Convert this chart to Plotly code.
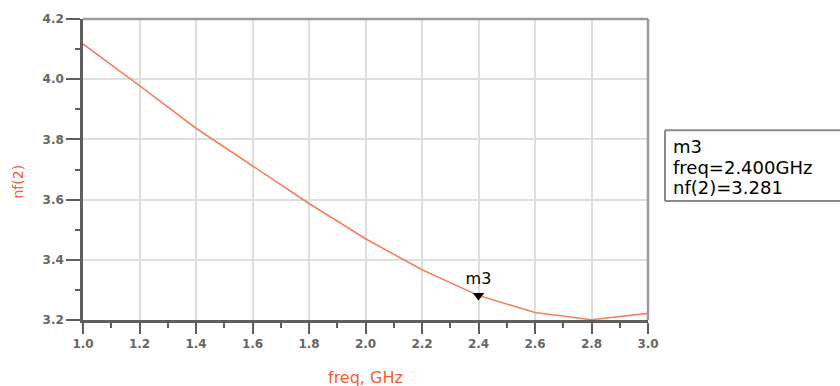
import plotly.graph_objects as go

# Noise figure sweep, nf(2) versus frequency
freq_ghz = [1.0, 1.2, 1.4, 1.6, 1.8, 2.0, 2.2, 2.4, 2.6, 2.8, 3.0]
nf2 = [4.117, 3.979, 3.837, 3.712, 3.587, 3.470, 3.367, 3.281, 3.225, 3.201, 3.222]

x_ticks = [1.0, 1.2, 1.4, 1.6, 1.8, 2.0, 2.2, 2.4, 2.6, 2.8, 3.0]
y_ticks = [3.2, 3.4, 3.6, 3.8, 4.0, 4.2]

marker_name = "m3"
marker_freq = 2.4
marker_value = nf2[freq_ghz.index(marker_freq)]

curve_color = "#f2825e"
title_color = "#f75b30"
axis_color = "#5e5e5e"
frame_color = "#9a9a9a"
grid_color = "#dedede"
font_family = "DejaVu Sans, Liberation Sans, Arial, sans-serif"

fig = go.Figure()

fig.add_trace(go.Scatter(
    x=freq_ghz, y=nf2, mode="lines",
    line=dict(color=curve_color, width=1.6),
    hoverinfo="skip", showlegend=False,
))

# marker triangle at the m3 point
fig.add_trace(go.Scatter(
    x=[marker_freq], y=[marker_value], mode="markers+text",
    marker=dict(symbol="triangle-down", size=10, color="black"),
    text=[marker_name], textposition="top center",
    textfont=dict(family=font_family, size=16, color="black"),
    hoverinfo="skip", showlegend=False, cliponaxis=False,
))

fig.update_layout(
    width=840, height=386,
    margin=dict(l=83, r=192, t=14, b=66),
    paper_bgcolor="white", plot_bgcolor="white",
    font=dict(family=font_family),
    showlegend=False,
)

tick_font = dict(family=font_family, size=12, color="#666666", weight="bold")

fig.update_xaxes(
    range=[1.0, 3.0], tickvals=x_ticks, ticktext=[f"{v:.1f}" for v in x_ticks],
    showgrid=True, gridcolor=grid_color, gridwidth=1.5,
    showline=True, linecolor=axis_color, linewidth=2.5, mirror=False,
    ticks="outside", ticklen=11, tickwidth=2, tickcolor=axis_color,
    minor=dict(dtick=0.1, tick0=1.0, ticks="outside", ticklen=5, tickwidth=1.5,
               tickcolor=axis_color, showgrid=False),
    tickfont=tick_font, zeroline=False,
)
fig.update_yaxes(
    range=[3.2, 4.2], tickvals=y_ticks, ticktext=[f"{v:.1f}" for v in y_ticks],
    showgrid=True, gridcolor=grid_color, gridwidth=1.5,
    showline=True, linecolor=axis_color, linewidth=2.5, mirror=False,
    ticks="outside", ticklen=14, tickwidth=2, tickcolor=axis_color,
    minor=dict(dtick=0.1, tick0=3.2, ticks="outside", ticklen=5, tickwidth=1.5,
               tickcolor=axis_color, showgrid=False),
    tickfont=tick_font, zeroline=False,
)

# top and right frame edges
fig.add_shape(type="line", xref="paper", yref="paper", x0=0, x1=1, y0=1, y1=1,
              line=dict(color=frame_color, width=2.5))
fig.add_shape(type="line", xref="paper", yref="paper", x0=1, x1=1, y0=0, y1=1,
              line=dict(color=frame_color, width=2.5))

# axis titles
fig.add_annotation(text="freq, GHz", xref="paper", yref="paper", x=0.5, y=0,
                   yshift=-57, showarrow=False, yanchor="middle",
                   font=dict(family=font_family, size=16, color=title_color))
fig.add_annotation(text="nf(2)", xref="paper", yref="paper", x=0, y=0.46,
                   xshift=-65, showarrow=False, textangle=-90, xanchor="center",
                   font=dict(family=font_family, size=14, color=title_color))

# marker readout box, open on the right where it meets the figure edge
box_x0 = (665 - 83) / 565
box_x1 = (840 - 83) / 565
box_y0 = (320 - 199) / 306
box_y1 = (320 - 127) / 306
box_line = dict(color="#8a8a8a", width=2)
fig.add_shape(type="line", xref="paper", yref="paper",
              x0=box_x0, x1=box_x1, y0=box_y1, y1=box_y1, line=box_line)
fig.add_shape(type="line", xref="paper", yref="paper",
              x0=box_x0, x1=box_x1, y0=box_y0, y1=box_y0, line=box_line)
fig.add_shape(type="line", xref="paper", yref="paper",
              x0=box_x0, x1=box_x0, y0=box_y0, y1=box_y1, line=box_line)

readout = [marker_name, f"freq={marker_freq:.3f}GHz", f"nf(2)={marker_value:.3f}"]
for i, line_text in enumerate(readout):
    fig.add_annotation(text=line_text, xref="paper", yref="paper",
                       x=(671 - 83) / 565, y=(320 - (144 + 20.5 * i)) / 306,
                       xanchor="left", yanchor="middle", showarrow=False,
                       font=dict(family=font_family, size=18, color="black"))

fig.write_html("out.html")
